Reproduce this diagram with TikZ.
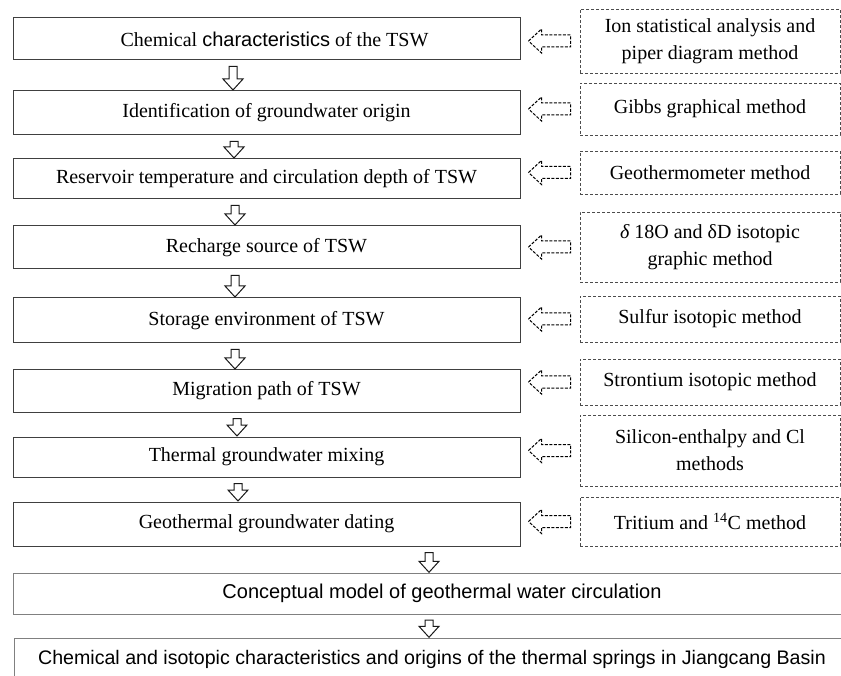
\documentclass[tikz,border=0pt]{standalone}
\usepackage{fontspec}
\setmainfont{Liberation Serif}
\setsansfont{Liberation Sans}
\usetikzlibrary{calc}
\tikzset{
  mainbox/.style={draw=black!75, line width=1pt, minimum width=507pt, inner sep=0pt, font=\fontsize{20}{24}\selectfont},
  methbox/.style={draw=black!70, line width=0.9pt, dash pattern=on 3pt off 2pt, minimum width=260pt, inner sep=0pt, align=center, font=\fontsize{20}{27}\selectfont},
  blockarr/.style={draw=black!90, line width=1pt, fill=white, line join=miter},
  dasharr/.style={draw=black, line width=1pt, dash pattern=on 3pt off 1.5pt, fill=white},
  botline/.style={draw=black!50, line width=1pt},
  bottext/.style={inner sep=0pt, font=\sffamily\fontsize{20}{24}\selectfont}
}
\newcommand\dnarr[3]{% upper node, lower node, x
  \draw[blockarr] let \p1=(#1.south), \p2=(#2.north) in
    ({#3pt-4pt},{\y1-6pt}) -- ({#3pt+4pt},{\y1-6pt}) -- ({#3pt+4pt},{\y2+11.5pt})
    -- ({#3pt+10pt},{\y2+11.5pt}) -- ({#3pt},{\y2+0.5pt}) -- ({#3pt-10pt},{\y2+11.5pt})
    -- ({#3pt-4pt},{\y2+11.5pt}) -- cycle;}
\newcommand\ltarr[2]{% main node, method node
  \draw[dasharr] let \p1=(#1.east), \p2=(#2.west) in
    ({\x1+8pt},{\y2}) -- ({\x1+21pt},{\y2+12pt}) -- ({\x1+21pt},{\y2+6pt})
    -- ({\x2-9pt},{\y2+6pt}) -- ({\x2-9pt},{\y2-6pt}) -- ({\x1+21pt},{\y2-6pt})
    -- ({\x1+21pt},{\y2-12pt}) -- cycle;}
\begin{document}
\begin{tikzpicture}[x=1pt,y=-1pt]
\useasboundingbox[fill=white] (0,0) rectangle (841,676);
% main boxes
\node[mainbox, minimum height=42pt] (b1) at (266.5,39) {\hspace{16pt}Chemical \textsf{characteristics} of the TSW};
\node[mainbox, minimum height=44pt] (b2) at (266.5,113) {Identification of groundwater origin};
\node[mainbox, minimum height=40pt] (b3) at (266.5,179) {Reservoir temperature and circulation depth of TSW};
\node[mainbox, minimum height=43pt] (b4) at (266.5,247.5) {Recharge source of TSW};
\node[mainbox, minimum height=45pt] (b5) at (266.5,320.5) {Storage environment of TSW};
\node[mainbox, minimum height=42pt] (b6) at (266.5,391) {Migration path of TSW};
\node[mainbox, minimum height=40pt] (b7) at (266.5,457) {Thermal groundwater mixing};
\node[mainbox, minimum height=44pt] (b8) at (266.5,524) {Geothermal groundwater dating};
% method boxes
\node[methbox, minimum height=64pt] (r1) at (710,41) {Ion statistical analysis and\\piper diagram method};
\node[methbox, minimum height=52pt] (r2) at (710,109) {Gibbs graphical method};
\node[methbox, minimum height=43pt] (r3) at (710,172.5) {Geothermometer method};
\node[methbox, minimum height=70pt] (r4) at (710,247) {{\itshape δ} 18O and δD isotopic\\graphic method};
\node[methbox, minimum height=46pt] (r5) at (710,319) {Sulfur isotopic method};
\node[methbox, minimum height=46pt] (r6) at (710,382) {Strontium isotopic method};
\node[methbox, minimum height=71pt] (r7) at (710,450.5) {Silicon-enthalpy and Cl\\methods};
\node[methbox, minimum height=49pt] (r8) at (710,521.5) {Tritium and \textsuperscript{14}C method};
% bottom boxes
\draw[botline] (841,573) -- (13,573) -- (13,614) -- (841,614);
\draw[botline] (841,638) -- (14,638) -- (14,676);
\node[bottext, minimum height=41pt] (b9) at (442,593.5) {Conceptual model of geothermal water circulation};
\node[bottext, minimum height=42pt, font=\sffamily\fontsize{19.6}{24}\selectfont] (b10) at (432,659) {Chemical and isotopic characteristics and origins of the thermal springs in Jiangcang Basin};
% down arrows
\dnarr{b1}{b2}{233}
\dnarr{b2}{b3}{234}
\dnarr{b3}{b4}{235}
\dnarr{b4}{b5}{235}
\dnarr{b5}{b6}{235}
\dnarr{b6}{b7}{237}
\dnarr{b7}{b8}{238}
\dnarr{b8}{b9}{429}
\dnarr{b9}{b10}{429}
% left dashed arrows
\ltarr{b1}{r1}
\ltarr{b2}{r2}
\ltarr{b3}{r3}
\ltarr{b4}{r4}
\ltarr{b5}{r5}
\ltarr{b6}{r6}
\ltarr{b7}{r7}
\ltarr{b8}{r8}
\end{tikzpicture}
\end{document}
